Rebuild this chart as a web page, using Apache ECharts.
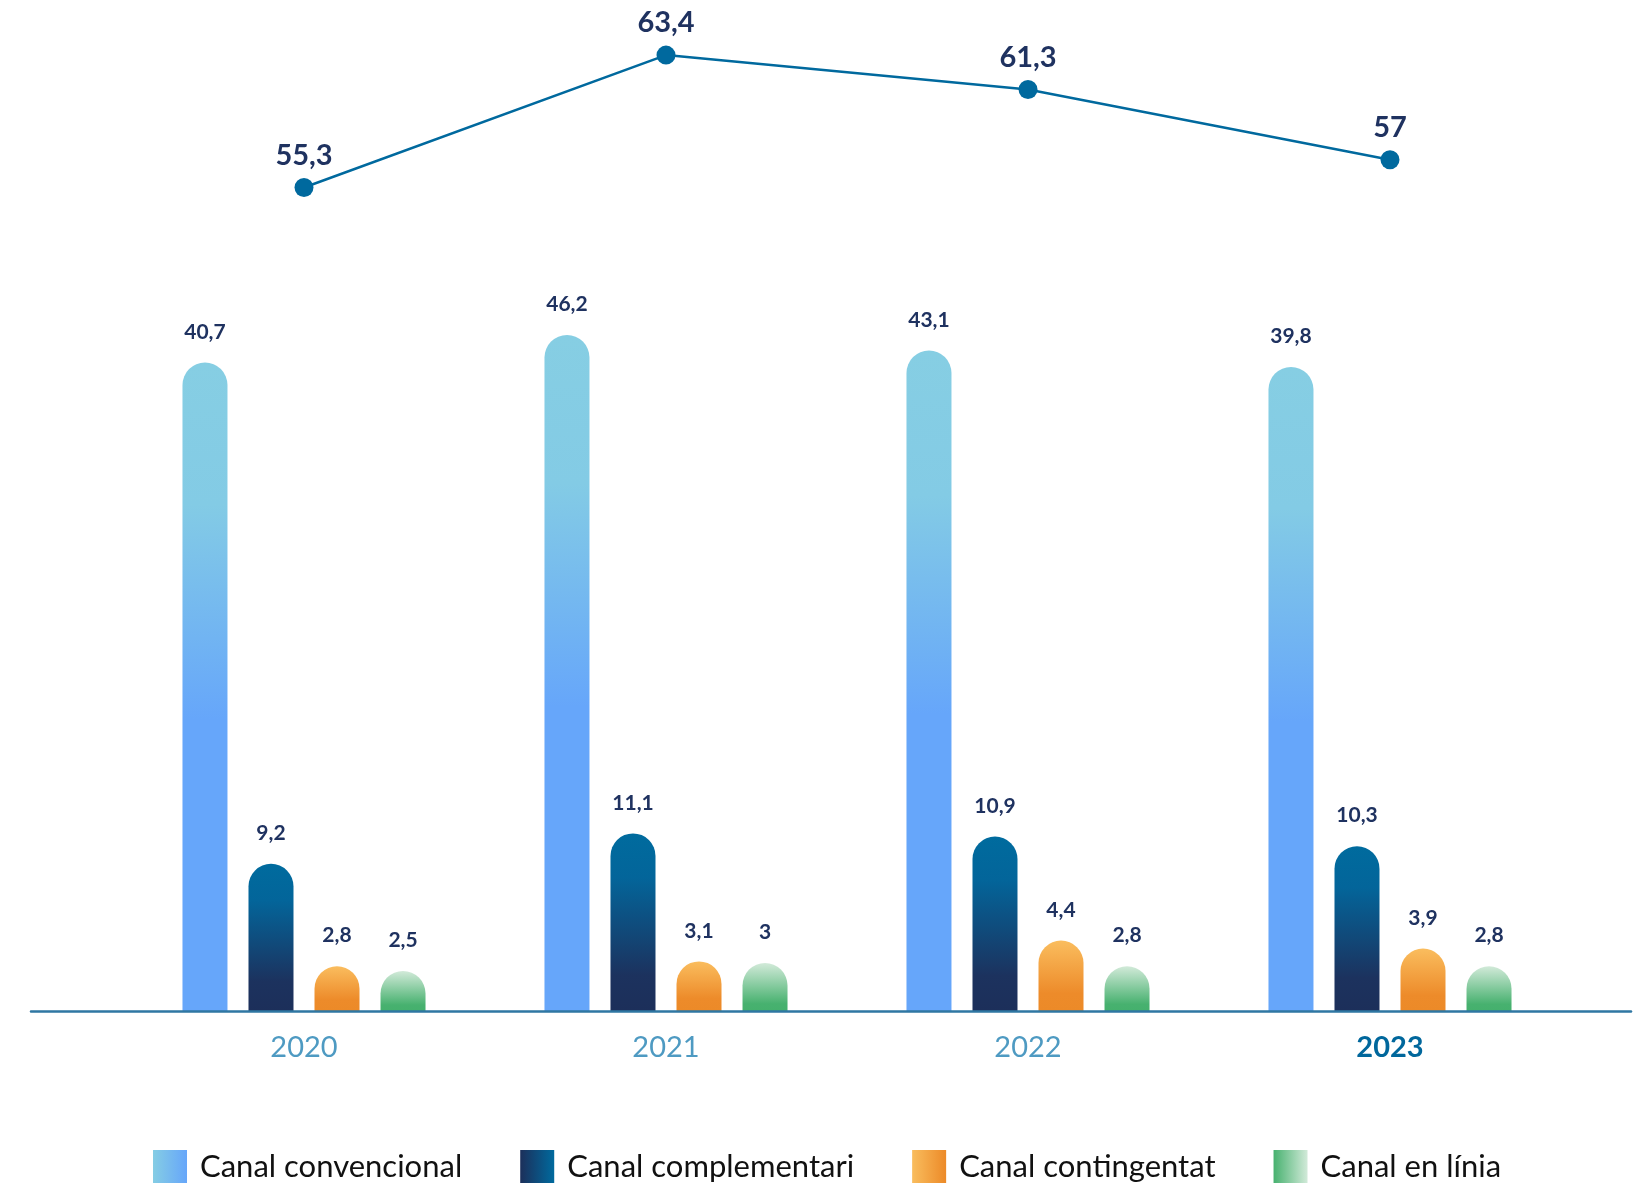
<!DOCTYPE html>
<html>
<head>
<meta charset="utf-8">
<script src="https://cdn.jsdelivr.net/npm/echarts@6/dist/echarts.min.js"></script>
<style>
html,body{margin:0;padding:0;background:#fff;}
#chart{width:1636px;height:1185px;}
</style>
</head>
<body>
<div id="chart"></div>
<script>
const categories = ['2020', '2021', '2022', '2023'];
const seriesNames = ['Canal convencional', 'Canal complementari', 'Canal contingentat', 'Canal en línia'];
const convencional = [40.7, 46.2, 43.1, 39.8];
const complementari = [9.2, 11.1, 10.9, 10.3];
const contingentat = [2.8, 3.1, 4.4, 3.9];
const enLinia = [2.5, 3, 2.8, 2.8];
const total = [55.3, 63.4, 61.3, 57];

const FONT = 'Lato, "Noto Sans", sans-serif';
const fmt = v => String(v).replace('.', ',');

function vGrad(stops) {
  return new echarts.graphic.LinearGradient(0, 0, 0, 1, stops.map(s => ({offset: s[0], color: s[1]})));
}
function hGrad(stops) {
  return new echarts.graphic.LinearGradient(0, 0, 1, 0, stops.map(s => ({offset: s[0], color: s[1]})));
}

const barColors = [
  vGrad([[0, '#86CEE3'], [0.22, '#83CBE5'], [0.55, '#66A6FA'], [1, '#66A6FA']]),
  vGrad([[0, '#006B9E'], [0.25, '#03659A'], [0.8, '#1C325E'], [1, '#1C2F5A']]),
  vGrad([[0, '#FABD5E'], [0.75, '#ED8B2A'], [1, '#EC8A28']]),
  vGrad([[0, '#D2EAD9'], [0.85, '#47B16F'], [1, '#45B06D']])
];
const legendColors = [
  hGrad([[0, '#85CDE4'], [1, '#66A6FA']]),
  hGrad([[0, '#1C2F5A'], [1, '#006A9E']]),
  hGrad([[0, '#F9BD5E'], [1, '#EC8A28']]),
  hGrad([[0, '#47B16F'], [1, '#D2EAD9']])
];

const barLabel = {
  show: true,
  position: 'top',
  distance: 20,
  formatter: p => fmt(p.value),
  color: '#1F3260',
  fontFamily: FONT,
  fontWeight: 'bold',
  fontSize: 21
};

function barSeries(i, data, yIdx) {
  return {
    name: seriesNames[i],
    type: 'bar',
    xAxisIndex: 0,
    yAxisIndex: yIdx,
    data: data,
    barWidth: 45,
    barGap: '46.7%',
    itemStyle: {color: barColors[i], borderRadius: [22.5, 22.5, 0, 0]},
    label: barLabel,
    emphasis: {disabled: true}
  };
}

const chart = echarts.init(document.getElementById('chart'), null, {renderer: 'canvas'});
chart.setOption({
  animation: false,
  backgroundColor: '#ffffff',
  legend: {
    left: 148,
    top: 1145,
    itemWidth: 34,
    itemHeight: 33,
    itemGap: 58,
    icon: 'rect',
    selectedMode: false,
    textStyle: {fontFamily: FONT, fontSize: 31, color: '#111111', padding: [0, 0, 0, 8]},
    data: seriesNames.map((n, i) => ({name: n, itemStyle: {color: legendColors[i]}}))
  },
  grid: [
    {left: 123, right: 65, top: 11, bottom: 174},
    {left: 31, right: 5, top: 11, bottom: 174}
  ],
  xAxis: [
    {
      gridIndex: 0,
      type: 'category',
      data: categories,
      axisLine: {show: false},
      axisTick: {show: false},
      axisLabel: {
        margin: 22,
        formatter: v => v === '2023' ? '{b|' + v + '}' : '{a|' + v + '}',
        rich: {
          a: {fontFamily: FONT, fontSize: 29, color: '#4E9AC2'},
          b: {fontFamily: FONT, fontSize: 29, fontWeight: 'bold', color: '#00679C'}
        }
      }
    },
    {
      gridIndex: 1,
      type: 'category',
      data: [''],
      axisLine: {show: true, lineStyle: {color: '#2F77A3', width: 2.5}},
      axisTick: {show: false},
      axisLabel: {show: false},
      z: 10
    }
  ],
  yAxis: [
    {gridIndex: 0, type: 'value', min: 0, max: 62.5, show: false},
    {gridIndex: 0, type: 'value', min: -89, max: 111, startValue: -89, show: false},
    {gridIndex: 0, type: 'value', min: 4.9, max: 66.1, show: false},
    {gridIndex: 1, type: 'value', min: 0, max: 1, show: false}
  ],
  series: [
    barSeries(0, convencional, 1),
    barSeries(1, complementari, 0),
    barSeries(2, contingentat, 0),
    barSeries(3, enLinia, 0),
    {
      name: 'Total',
      type: 'line',
      xAxisIndex: 0,
      yAxisIndex: 2,
      data: total,
      symbol: 'circle',
      symbolSize: 19,
      lineStyle: {color: '#00699E', width: 2.5},
      itemStyle: {color: '#00699E'},
      label: {
        show: true,
        position: 'top',
        distance: 8,
        formatter: p => fmt(p.value),
        color: '#1F3260',
        fontFamily: FONT,
        fontWeight: 'bold',
        fontSize: 29
      },
      emphasis: {disabled: true},
      z: 5
    }
  ]
});
</script>
</body>
</html>
